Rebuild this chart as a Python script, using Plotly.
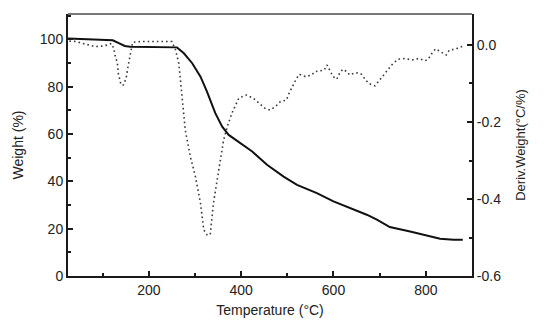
import plotly.graph_objects as go

# Weight curve (TGA) - left axis
temp_weight = [25, 60, 100, 122, 135, 148, 160, 225, 261, 276, 294, 312, 326, 344, 359, 373, 398,
               424, 456, 492, 521, 564, 600, 636, 672, 694, 722, 766, 802, 831, 860, 880]
weight = [100.4, 100.2, 99.9, 99.6, 98.4, 97.2, 96.9, 96.9, 96.6, 94.1, 89.9, 84.2, 77.9, 68.8, 63.1,
          59.6, 56.1, 52.6, 47.0, 42.0, 38.5, 35.0, 31.5, 28.7, 25.9, 23.8, 20.7, 18.8, 17.0, 15.7,
          15.3, 15.3]

# Derivative weight curve (DTG) - right axis
temp_deriv = [28, 43, 57, 68, 83, 97, 111, 119, 124, 127, 132, 134, 137, 140, 145, 151, 155, 158, 162,
              165, 184, 220, 250, 258, 265, 272, 279, 290, 301, 312, 319, 326, 333, 340, 351, 362,
              370, 380, 395, 411, 426, 438, 451, 463, 474, 485, 498, 504, 512, 519, 526, 539, 553,
              560, 571, 580, 586, 591, 599, 607, 613, 620, 629, 635, 647, 659, 668, 676, 690, 700,
              710, 719, 728, 740, 755, 770, 785, 798, 805, 813, 821, 831, 844, 851, 863, 878, 885]
deriv = [0.010, 0.009, 0.004, 0.0, -0.004, -0.003, 0.0, 0.004, -0.009, -0.026, -0.048, -0.074, -0.091,
         -0.104, -0.104, -0.086, -0.056, -0.035, -0.017, 0.007, 0.009, 0.009, 0.009, -0.013, -0.048,
         -0.134, -0.221, -0.29, -0.342, -0.411, -0.48, -0.493, -0.493, -0.411, -0.325, -0.247,
         -0.212, -0.177, -0.138, -0.13, -0.138, -0.151, -0.164, -0.169, -0.16, -0.147, -0.143,
         -0.125, -0.104, -0.089, -0.076, -0.082, -0.078, -0.069, -0.067, -0.065, -0.052, -0.063,
         -0.082, -0.089, -0.074, -0.063, -0.069, -0.078, -0.072, -0.074, -0.087, -0.1, -0.106,
         -0.091, -0.078, -0.065, -0.049, -0.037, -0.035, -0.039, -0.035, -0.041, -0.037, -0.022,
         -0.010, -0.017, -0.026, -0.013, -0.011, -0.004, -0.003]

x_tick_vals = [200, 400, 600, 800]
left_tick_vals = [0, 20, 40, 60, 80, 100]
right_tick_vals = [0.0, -0.2, -0.4, -0.6]
right_tick_labels = ["0.0", "-0.2", "-0.4", "-0.6"]

FONT = "Liberation Sans, Arial, sans-serif"
AX = "#1a1a1a"

fig = go.Figure()
fig.add_trace(go.Scatter(x=temp_deriv, y=deriv, mode="lines", yaxis="y2",
                         line=dict(color="#3a3a3a", width=1.6, dash="1.6px,3px"),
                         showlegend=False))
fig.add_trace(go.Scatter(x=temp_weight, y=weight, mode="lines",
                         line=dict(color="#111111", width=2), showlegend=False))

fig.update_layout(
    width=536, height=320,
    margin=dict(l=60, r=72, t=6, b=52),
    paper_bgcolor="white", plot_bgcolor="white",
    font=dict(family=FONT, size=14, color="#222"),
    xaxis=dict(range=[25, 900], tickvals=x_tick_vals, ticks="inside", ticklen=5, tickwidth=1.5,
               tickcolor=AX, showline=True, linecolor=AX, linewidth=2, showgrid=False,
               zeroline=False, tickfont=dict(size=14),
               minor=dict(tickvals=[100, 300, 500, 700], ticks="inside", ticklen=3, tickcolor=AX),
               title=dict(text="Temperature (°C)", font=dict(size=14), standoff=8)),
    yaxis=dict(range=[0, 110.7], tickvals=left_tick_vals, ticks="inside", ticklen=5, tickwidth=1.5,
               tickcolor=AX, showline=True, linecolor=AX, linewidth=2, showgrid=False,
               zeroline=False, tickfont=dict(size=14),
               minor=dict(dtick=10, ticks="inside", ticklen=3, tickcolor=AX),
               title=dict(text="Weight (%)", font=dict(size=14), standoff=13)),
    yaxis2=dict(range=[-0.6, 0.0805], overlaying="y", side="right", tickvals=right_tick_vals,
                ticktext=right_tick_labels, ticks="inside", ticklen=5, tickwidth=1.5, tickcolor=AX,
                showline=True, linecolor=AX, linewidth=2, showgrid=False, zeroline=False,
                tickfont=dict(size=14),
                minor=dict(tickvals=[-0.1, -0.3, -0.5], ticks="inside", ticklen=3, tickcolor=AX),
                title=dict(text="Deriv.Weight(°C/%)", font=dict(size=13), standoff=16)),
    shapes=[dict(type="line", xref="paper", yref="paper", x0=0, x1=1, y0=1, y1=1,
                 line=dict(color="#777", width=2))],
)

fig.write_html("out.html")
